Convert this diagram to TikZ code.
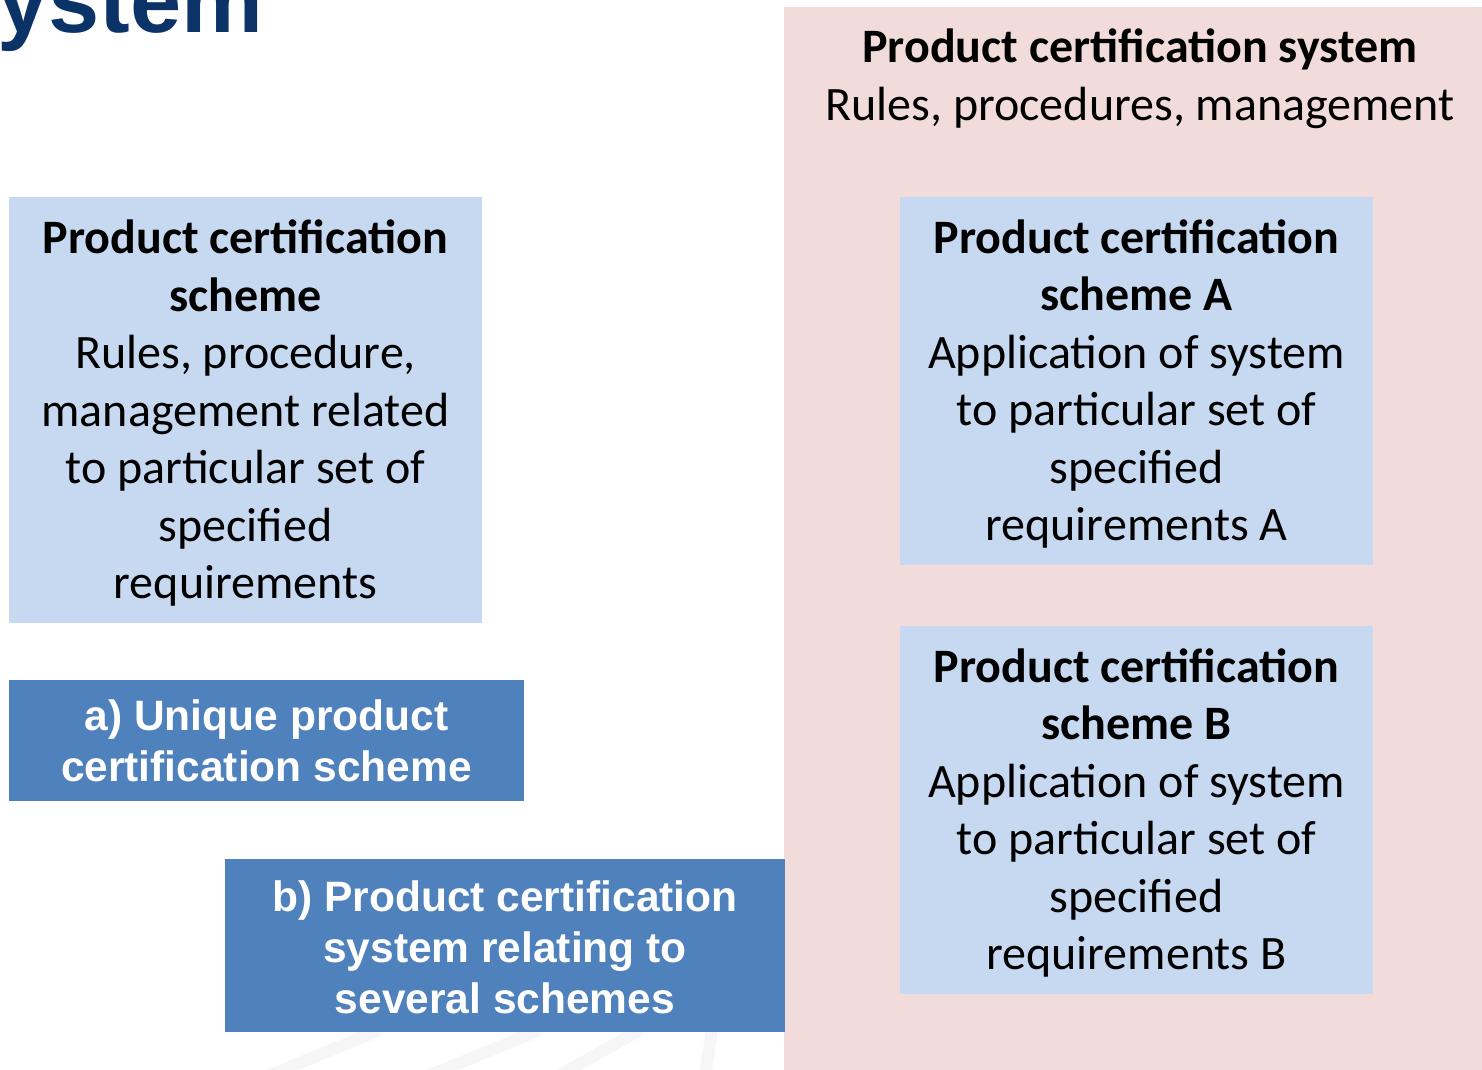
\documentclass[tikz,border=0pt]{standalone}
\usepackage{fontspec}
\setmainfont{Carlito}
\newfontfamily\arialf{Liberation Sans}
\definecolor{panelpink}{HTML}{F2DCDB}
\definecolor{lightblue}{HTML}{C6D9F1}
\definecolor{midblue}{HTML}{4F81BD}
\definecolor{titleblue}{HTML}{0B3368}
\tikzset{
  lboxshape/.style={fill=lightblue, inner sep=0pt, minimum width=473pt},
  ltext/.style={inner sep=0pt, align=center, text=black,
    font=\fontsize{48}{57.5}\selectfont},
  dbox/.style={fill=midblue, inner sep=0pt, align=center, text=white,
    font=\arialf\bfseries\fontsize{42.5}{51}\selectfont},
  wmark/.style={line width=12pt, draw=black!3.5, line cap=butt}
}
\begin{document}
\begin{tikzpicture}[x=1pt,y=-1pt]
\useasboundingbox (0,0) rectangle (1482,1070);
\clip (0,0) rectangle (1482,1070);
% faint watermark
\draw[wmark] (270,1075) -- (380,1030);
\draw[wmark] (430,1075) -- (540,1030);
\draw[wmark] (560,1075) -- (640,1030);
\draw[wmark] (705,1075) -- (712,1030);
% title fragment
\node[anchor=base east, inner sep=0pt, text=titleblue,
  font=\arialf\bfseries\fontsize{92}{100}\selectfont] (title) at (263.5,33) {ystem};
% pink panel
\node[fill=panelpink, inner sep=0pt, minimum width=698pt, minimum height=1063pt] (panel) at (1133,538.5) {};
\node[ltext] (systitle) at (1140,79)
  {\textbf{Product certification system}\\Rules, procedures, management};
% left scheme box
\node[lboxshape, minimum height=426pt] (scheme) at (245.5,410) {};
\node[ltext] (schemetext) at ([yshift=-3pt]scheme.center)
  {\textbf{Product certification}\\\textbf{scheme}\\Rules, procedure,\\management related\\to particular set of\\specified\\requirements};
% scheme A
\node[lboxshape, minimum height=368pt] (schemeA) at (1136.5,381) {};
\node[ltext] (schemeAtext) at ([yshift=-3pt]schemeA.center)
  {\textbf{Product certification}\\\textbf{scheme A}\\Application of system\\to particular set of\\specified\\requirements A};
% scheme B
\node[lboxshape, minimum height=368pt] (schemeB) at (1136.5,810) {};
\node[ltext] (schemeBtext) at ([yshift=-3pt]schemeB.center)
  {\textbf{Product certification}\\\textbf{scheme B}\\Application of system\\to particular set of\\specified\\requirements B};
% label boxes
\node[dbox, minimum width=515pt, minimum height=121pt] (labela) at (266.5,740.5)
  {a) Unique product\\certification scheme};
\node[dbox, minimum width=560pt, minimum height=173pt] (labelb) at (505,945.5) {};
\node[dbox, fill=none] (labelbtext) at ([yshift=-2pt]labelb.center)
  {b) Product certification\\system relating to\\several schemes};
\end{tikzpicture}
\end{document}
